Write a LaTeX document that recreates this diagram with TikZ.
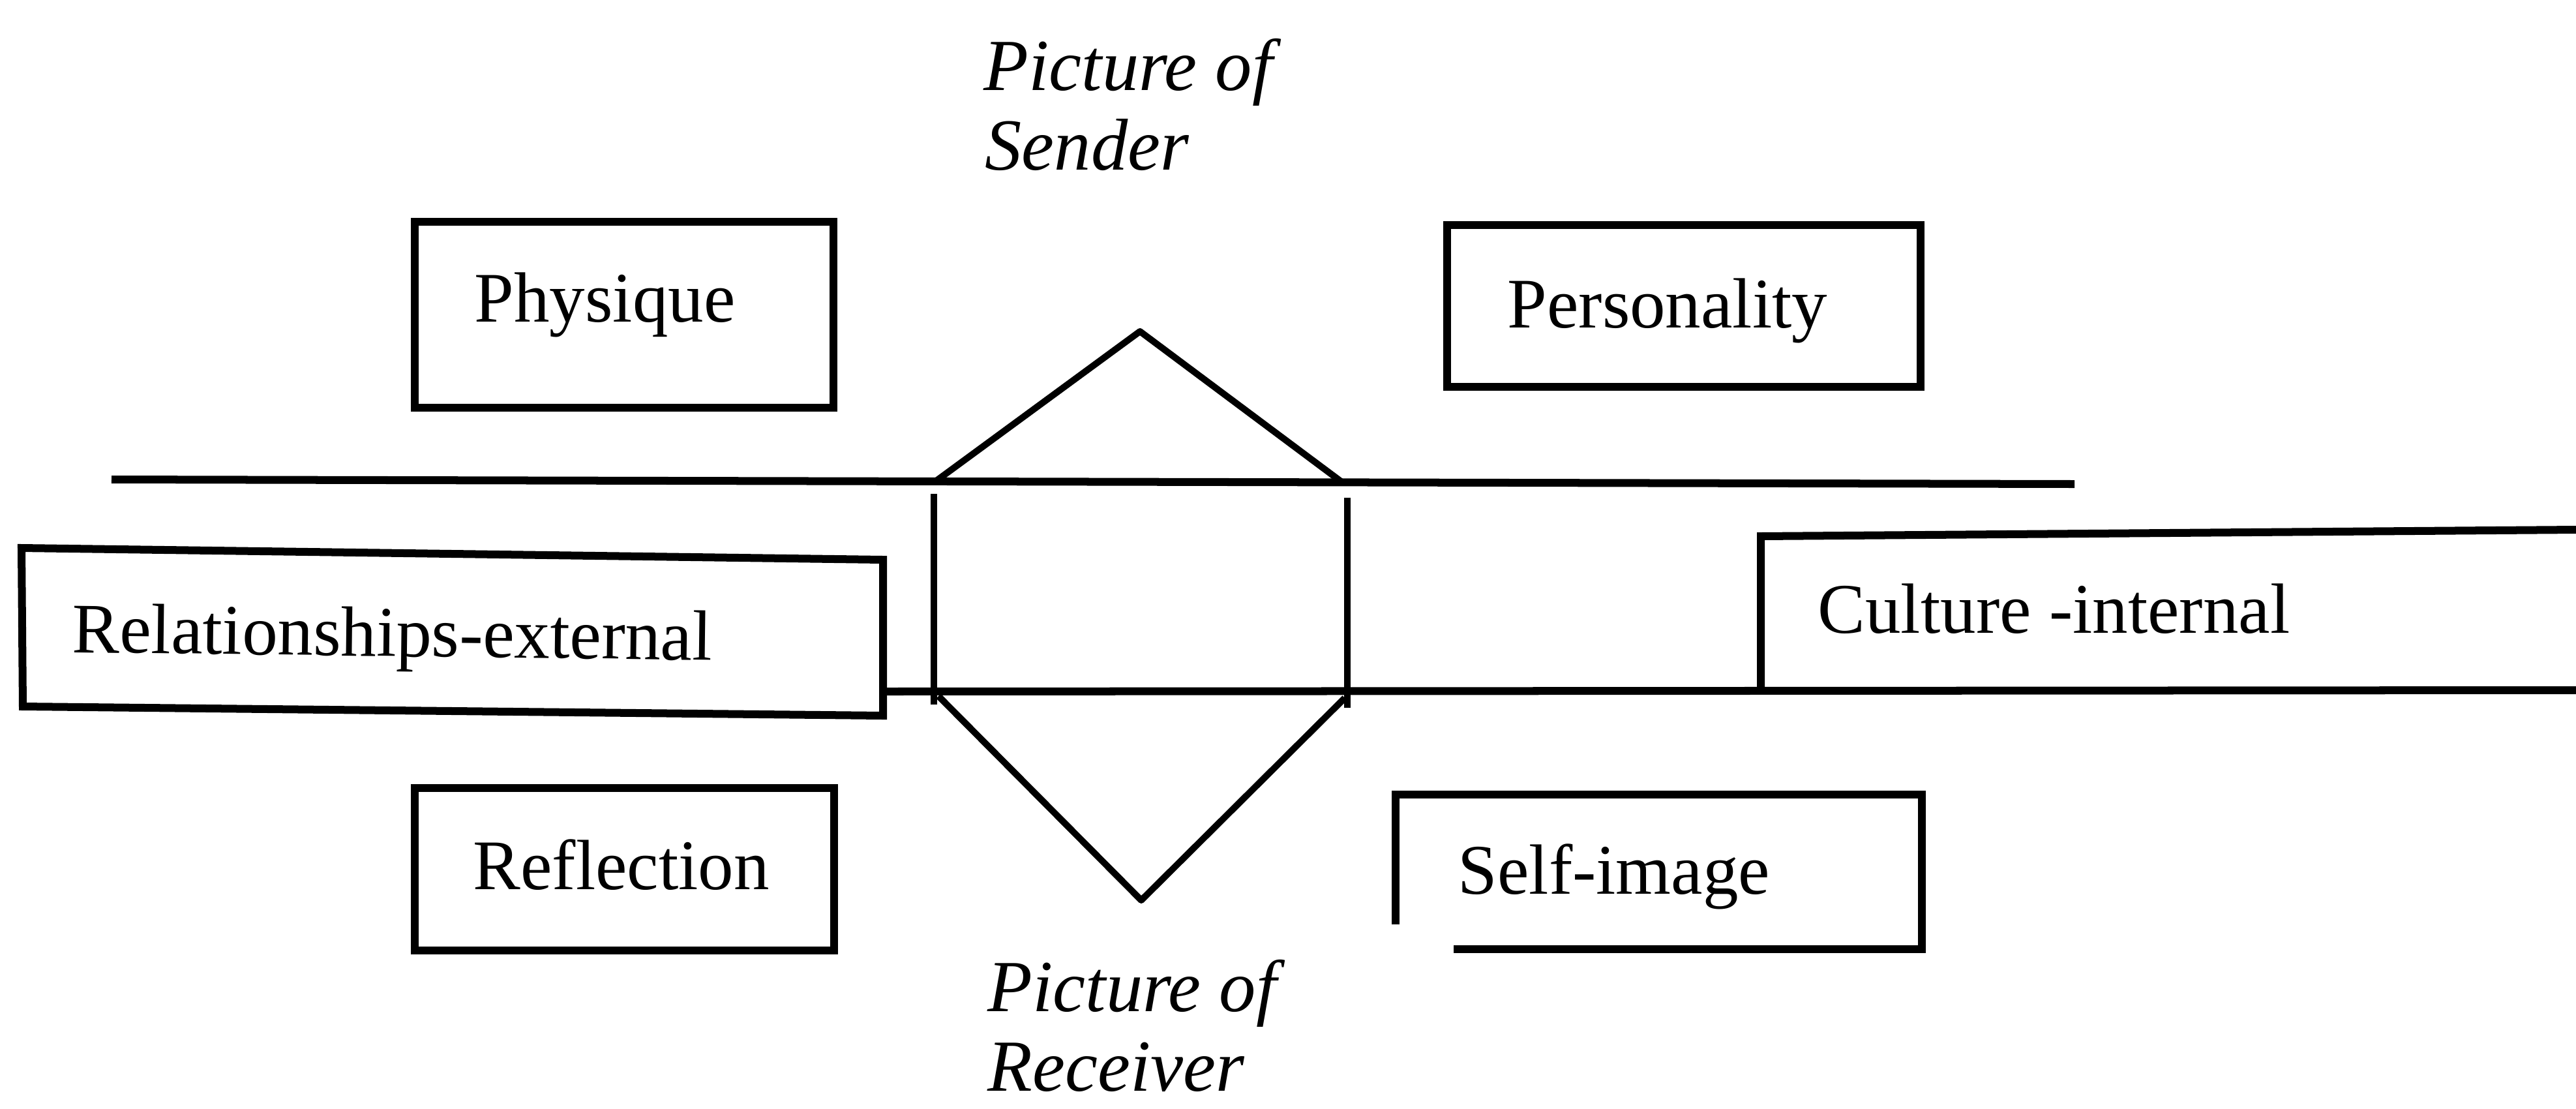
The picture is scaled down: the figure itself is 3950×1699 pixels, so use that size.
\documentclass[tikz,border=0pt]{standalone}
\usepackage{fontspec}
\setmainfont{Liberation Serif}
\begin{document}
\begin{tikzpicture}[x=0.01cm,y=-0.01cm,
  boxline/.style={line width=0.12cm, line join=miter},
  rule/.style={line width=0.12cm},
  thinrule/.style={line width=0.1cm, line join=round},
  framebox/.style={draw, boxline, rectangle, inner sep=0pt},
  lbl/.style={anchor=base west, inner sep=0pt, font=\fontsize{31}{36}\selectfont},
  captext/.style={anchor=base west, inner sep=0pt, font=\fontsize{32}{36}\selectfont\itshape}]
\useasboundingbox (0,0) rectangle (3950,1699);

% framed boxes above and below the band
\node[framebox, minimum width=6.42cm, minimum height=2.85cm] (physique) at (957,482.5) {};
\node[framebox, minimum width=7.26cm, minimum height=2.48cm] (personality) at (2582,469) {};
\node[framebox, minimum width=6.43cm, minimum height=2.49cm] (reflection) at (957.5,1332.5) {};

% self-image box, open at its lower left corner
\coordinate (si1) at (2140,1417);
\coordinate (si2) at (2140,1218);
\coordinate (si3) at (2947,1218);
\coordinate (si4) at (2947,1455);
\coordinate (si5) at (2229,1455);
\draw[boxline] (si1) -- (si2) -- (si3) -- (si4) -- (si5);

% relationships box, slightly skewed
\coordinate (re1) at (33,840);
\coordinate (re2) at (1354,858);
\coordinate (re3) at (1354,1097);
\coordinate (re4) at (35,1083);
\draw[boxline] (re1) -- (re2) -- (re3) -- (re4) -- cycle;

% culture box running off the right edge
\coordinate (cu1) at (3950,812);
\coordinate (cu2) at (2700,822);
\coordinate (cu3) at (2700,1060);
\draw[boxline] (cu1) -- (cu2) -- (cu3);

% the band: upper and lower rules
\coordinate (up1) at (171,735);
\coordinate (up2) at (3181,742);
\draw[rule] (up1) -- (up2);
\coordinate (lo1) at (1354,1060);
\coordinate (lo2) at (3950,1058);
\draw[rule] (lo1) -- (lo2);

% the hexagon: two triangles and two uprights
\coordinate (ta) at (1437,736);
\coordinate (tb) at (1748,508);
\coordinate (tc) at (2059,740);
\draw[thinrule] (ta) -- (tb) -- (tc);
\coordinate (ba) at (1439,1067);
\coordinate (bb) at (1750,1380);
\coordinate (bc) at (2062,1070);
\draw[thinrule] (ba) -- (bb) -- (bc);
\coordinate (vl1) at (1432,757);
\coordinate (vl2) at (1432,1080);
\coordinate (vr1) at (2066,763);
\coordinate (vr2) at (2066,1085);
\draw[thinrule] (vl1) -- (vl2);
\draw[thinrule] (vr1) -- (vr2);

% texts
\node[lbl] (t-physique) at (727,493) {Physique};
\node[lbl] (t-personality) at (2311,502) {Personality};
\node[lbl, rotate=-0.7] (t-relations) at (110,1000) {Relationships-external};
\node[lbl] (t-culture) at (2787,970) {Culture -internal};
\node[lbl] (t-reflection) at (725,1363) {Reflection};
\node[lbl] (t-selfimage) at (2235,1370) {Self-image};

\node[captext] (t-sender1) at (1508,138) {Picture of};
\node[captext] (t-sender2) at (1510,260) {Sender};
\node[captext] (t-receiver1) at (1514,1550) {Picture of};
\node[captext] (t-receiver2) at (1514,1672) {Receiver};
\end{tikzpicture}
\end{document}
